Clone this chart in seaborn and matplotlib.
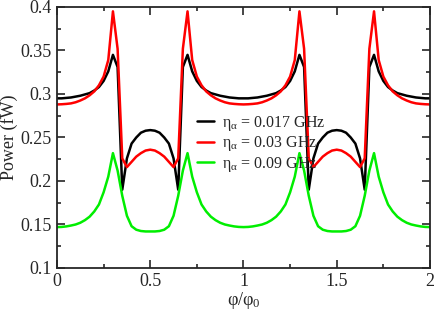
import numpy as np
import pandas as pd
import seaborn as sns
from matplotlib import pyplot as plt
from matplotlib.ticker import MultipleLocator

# flux values phi/phi0, step 0.025 over two periods
phi = np.round(np.arange(0, 2.0001, 0.025), 3)

# eta = 0.017 GHz (black)
p_017 = [0.295, 0.295, 0.2955, 0.296, 0.297, 0.298, 0.2995, 0.301, 0.304, 0.308,
         0.315, 0.326, 0.345, 0.331, 0.190, 0.226, 0.243, 0.250, 0.2555, 0.2578,
         0.2585, 0.2578, 0.2555, 0.250, 0.243, 0.226, 0.190, 0.331, 0.345, 0.326,
         0.315, 0.308, 0.304, 0.301, 0.2995, 0.298, 0.297, 0.296, 0.2955, 0.295,
         0.295, 0.295, 0.2955, 0.296, 0.297, 0.298, 0.2995, 0.301, 0.304, 0.308,
         0.315, 0.326, 0.345, 0.331, 0.190, 0.226, 0.243, 0.250, 0.2555, 0.2578,
         0.2585, 0.2578, 0.2555, 0.250, 0.243, 0.226, 0.190, 0.331, 0.345, 0.326,
         0.315, 0.308, 0.304, 0.301, 0.2995, 0.298, 0.297, 0.296, 0.2955, 0.295,
         0.295]

# eta = 0.03 GHz (red)
p_03 = [0.288, 0.2882, 0.2886, 0.2892, 0.2905, 0.2925, 0.295, 0.2985, 0.303, 0.310,
        0.320, 0.339, 0.395, 0.352, 0.226, 0.216, 0.222, 0.228, 0.232, 0.235,
        0.236, 0.235, 0.232, 0.228, 0.222, 0.216, 0.226, 0.352, 0.395, 0.339,
        0.320, 0.310, 0.303, 0.2985, 0.295, 0.2925, 0.2905, 0.2892, 0.2886, 0.2882,
        0.288, 0.2882, 0.2886, 0.2892, 0.2905, 0.2925, 0.295, 0.2985, 0.303, 0.310,
        0.320, 0.339, 0.395, 0.352, 0.226, 0.216, 0.222, 0.228, 0.232, 0.235,
        0.236, 0.235, 0.232, 0.228, 0.222, 0.216, 0.226, 0.352, 0.395, 0.339,
        0.320, 0.310, 0.303, 0.2985, 0.295, 0.2925, 0.2905, 0.2892, 0.2886, 0.2882,
        0.288]

# eta = 0.09 GHz (green)
p_09 = [0.147, 0.1472, 0.1478, 0.1488, 0.150, 0.152, 0.155, 0.159, 0.165, 0.173,
        0.187, 0.205, 0.232, 0.212, 0.183, 0.160, 0.148, 0.144, 0.1425, 0.142,
        0.142, 0.142, 0.1425, 0.144, 0.148, 0.160, 0.183, 0.212, 0.232, 0.205,
        0.187, 0.173, 0.165, 0.159, 0.155, 0.152, 0.150, 0.1488, 0.1478, 0.1472,
        0.147, 0.1472, 0.1478, 0.1488, 0.150, 0.152, 0.155, 0.159, 0.165, 0.173,
        0.187, 0.205, 0.232, 0.212, 0.183, 0.160, 0.148, 0.144, 0.1425, 0.142,
        0.142, 0.142, 0.1425, 0.144, 0.148, 0.160, 0.183, 0.212, 0.232, 0.205,
        0.187, 0.173, 0.165, 0.159, 0.155, 0.152, 0.150, 0.1488, 0.1478, 0.1472,
        0.147]

labels = ["η$_{\\alpha}$ = 0.017 GHz", "η$_{\\alpha}$ = 0.03 GHz", "η$_{\\alpha}$ = 0.09 GHz"]
colors = ["#000000", "#ff0000", "#00ee00"]
xticks = [0, 0.5, 1, 1.5, 2]
xtick_labels = ["0", "0.5", "1", "1.5", "2"]
yticks = [0.1, 0.15, 0.2, 0.25, 0.3, 0.35, 0.4]
ytick_labels = ["0.1", "0.15", "0.2", "0.25", "0.3", "0.35", "0.4"]

df = pd.concat([
    pd.DataFrame({"phi": phi, "power": vals, "eta": lab})
    for vals, lab in zip([p_017, p_03, p_09], labels)
])

sns.set_style("ticks")
plt.rcParams["font.family"] = ["Liberation Serif", "DejaVu Serif"]
plt.rcParams["mathtext.fontset"] = "stix"
plt.rcParams["mathtext.default"] = "regular"

fig = plt.figure(figsize=(4.36, 3.11), dpi=100)
ax = fig.add_axes([0.1307, 0.1383, 0.8555, 0.8392])

sns.lineplot(data=df, x="phi", y="power", hue="eta", palette=colors,
             linewidth=1.8, ax=ax, sort=False)

ax.set_xlim(0, 2)
ax.set_ylim(0.1, 0.4)
ax.set_xticks(xticks, xtick_labels)
ax.set_yticks(yticks, ytick_labels)
ax.xaxis.set_minor_locator(MultipleLocator(0.25))
ax.yaxis.set_minor_locator(MultipleLocator(0.025))
ax.tick_params(which="both", direction="in", top=True, right=True, width=1.2,
               labelsize=13)
ax.tick_params(which="major", length=6)
ax.tick_params(which="minor", length=3)
for s in ax.spines.values():
    s.set_linewidth(1.3)

ax.set_xlabel("φ/φ$_0$", fontsize=13, labelpad=0)
ax.set_ylabel("Power (fW)", fontsize=13, labelpad=2)

ax.legend(title=None, frameon=False, loc="upper left",
          bbox_to_anchor=(0.358, 0.615), fontsize=11.5, handlelength=1.1,
          handletextpad=0.5, labelspacing=0.1, borderaxespad=0)

fig.savefig("out.png", dpi=100)
